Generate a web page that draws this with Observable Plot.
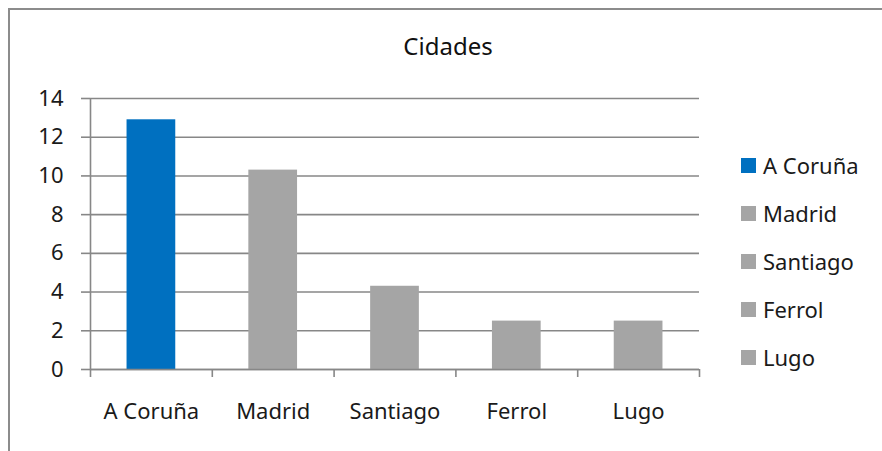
<!DOCTYPE html>
<html>
<head>
<meta charset="utf-8">
<script src="https://cdn.jsdelivr.net/npm/d3@7"></script>
<script src="https://cdn.jsdelivr.net/npm/@observablehq/plot@0.6"></script>
<style>
  html, body { margin: 0; padding: 0; background: #fff; overflow: hidden; }
  #wrap { position: relative; width: 882px; height: 451px; overflow: hidden; font-family: "Noto Sans", sans-serif; color: #1a1a1a; }
  #bt { position: absolute; left: 8px; top: 8px; width: 874px; height: 2px; background: #8c8c8c; }
  #bl { position: absolute; left: 8px; top: 8px; width: 2px; height: 443px; background: #8c8c8c; }
  #title { position: absolute; left: 0; width: 882px; padding-left: 14px; box-sizing: border-box; top: 29px; text-align: center; font-size: 24px; line-height: 34px; color: #111; }
  #chart { position: absolute; left: 0; top: 0; }
  #legend { position: absolute; left: 741px; top: 141px; }
  .item { display: flex; align-items: center; height: 48px; font-size: 22px; }
  .sw { width: 15px; height: 15px; margin-right: 7px; }
</style>
</head>
<body>
<div id="wrap">
  <div id="bt"></div>
  <div id="bl"></div>
  <div id="title"></div>
  <div id="chart"></div>
  <div id="legend"></div>
</div>
<script>
const title = "Cidades";
const categories = ["A Coruña", "Madrid", "Santiago", "Ferrol", "Lugo"];
const values = [12.9, 10.3, 4.3, 2.5, 2.5];
const colors = ["#0070C0", "#A5A5A5", "#A5A5A5", "#A5A5A5", "#A5A5A5"];
const yTicks = [0, 2, 4, 6, 8, 10, 12, 14];

const data = categories.map((c, i) => ({i, name: c, value: values[i], color: colors[i]}));
const bounds = d3.range(-0.5, categories.length, 1);
const half = 0.2;

document.getElementById("title").textContent = title;

const chart = Plot.plot({
  width: 882,
  height: 451,
  marginLeft: 90,
  marginRight: 183,
  marginTop: 98,
  marginBottom: 82,
  style: {fontFamily: "Noto Sans, sans-serif", fontSize: "22px", color: "#1a1a1a", background: "transparent"},
  x: {domain: [-0.5, categories.length - 0.5]},
  y: {domain: [0, 14]},
  marks: [
    Plot.gridY(yTicks, {stroke: "#878787", strokeOpacity: 1, strokeWidth: 1.6}),
    Plot.rectY(data, {x1: d => d.i - half, x2: d => d.i + half, y1: 0, y2: "value", fill: "color"}),
    Plot.ruleX([-0.5], {y1: 0, y2: 14, stroke: "#878787", strokeWidth: 1.6}),
    Plot.ruleY([0], {stroke: "#878787", strokeWidth: 1.6}),
    Plot.axisY({ticks: yTicks, tickSize: 9, tickPadding: 18, stroke: "#878787", strokeWidth: 1.6, label: null, fill: "#1a1a1a"}),
    Plot.axisX({ticks: bounds, tickSize: 8, tickFormat: () => "", stroke: "#878787", strokeWidth: 1.6, label: null}),
    Plot.axisX({ticks: d3.range(categories.length), tickSize: 0, tickPadding: 34, tickFormat: i => categories[i], label: null, fill: "#1a1a1a"})
  ]
});
document.getElementById("chart").appendChild(chart);

const legend = d3.select("#legend");
const items = legend.selectAll(".item").data(data).join("div").attr("class", "item");
items.append("div").attr("class", "sw").style("background", d => d.color);
items.append("span").text(d => d.name);
</script>
</body>
</html>
